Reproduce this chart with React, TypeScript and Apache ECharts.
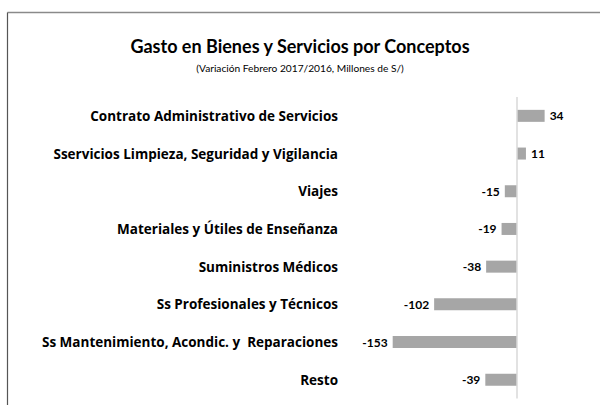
import React, { useEffect, useRef } from "react";
import * as echarts from "echarts";

const categories = [
  "Contrato Administrativo de Servicios",
  "Sservicios Limpieza, Seguridad y Vigilancia",
  "Viajes",
  "Materiales y Útiles de Enseñanza",
  "Suministros Médicos",
  "Ss Profesionales y Técnicos",
  "Ss Mantenimiento, Acondic. y  Reparaciones",
  "Resto",
];
const values = [34, 11, -15, -19, -38, -102, -153, -39];
const titleText = "Gasto en Bienes y Servicios por Conceptos";
const subtitleText = "(Variación Febrero 2017/2016, Millones de S/)";

const FONT = "Lato, 'Open Sans', sans-serif";
const LABEL_FONT = "'Open Sans', sans-serif";

export default function App() {
  const ref = useRef<HTMLDivElement>(null);
  useEffect(() => {
    if (!ref.current) return;
    const chart = echarts.init(ref.current, null, { renderer: "svg" });
    chart.setOption({
      animation: false,
      backgroundColor: "#ffffff",
      title: {
        text: titleText,
        subtext: subtitleText,
        left: "center",
        top: 31,
        itemGap: 5,
        textStyle: {
          fontFamily: FONT,
          fontSize: 18,
          fontWeight: "bold",
          color: "#000",
          lineHeight: 20,
        },
        subtextStyle: {
          fontFamily: FONT,
          fontSize: 10.2,
          color: "#000",
          lineHeight: 13,
        },
      },
      grid: { left: 387, top: 97, width: 195, height: 301.6 },
      xAxis: {
        type: "value",
        min: -160,
        max: 80,
        show: false,
        splitLine: { show: false },
      },
      yAxis: {
        type: "category",
        data: categories,
        inverse: true,
        axisLine: { show: false },
        axisTick: { show: false },
        axisLabel: {
          margin: 49,
          fontFamily: LABEL_FONT,
          fontWeight: "bold",
          fontSize: 13.5,
          color: "#000",
        },
      },
      graphic: [
        {
          type: "line",
          shape: { x1: 7.5, y1: 12.5, x2: 600, y2: 12.5 },
          style: { stroke: "#8a8a8a", lineWidth: 1.5 },
          silent: true,
        },
        {
          type: "line",
          shape: { x1: 7.5, y1: 12.5, x2: 7.5, y2: 405 },
          style: { stroke: "#555", lineWidth: 1.2 },
          silent: true,
        },
      ],
      series: [
        {
          type: "bar",
          barWidth: 12,
          itemStyle: { color: "#a6a6a6" },
          data: values.map((v) => ({
            value: v,
            label: { position: v >= 0 ? "right" : "left" },
          })),
          label: {
            show: true,
            distance: 5,
            fontFamily: FONT,
            fontWeight: "bold",
            fontSize: 12,
            color: "#000",
          },
          markLine: {
            silent: true,
            symbol: "none",
            label: { show: false },
            lineStyle: { color: "#d9d9d9", type: "solid", width: 1.5 },
            data: [{ xAxis: 0 }],
          },
        },
      ],
    });
    return () => chart.dispose();
  }, []);
  return (
    <div
      ref={ref}
      style={{ position: "absolute", left: 0, top: 0, width: 600, height: 405 }}
    />
  );
}
